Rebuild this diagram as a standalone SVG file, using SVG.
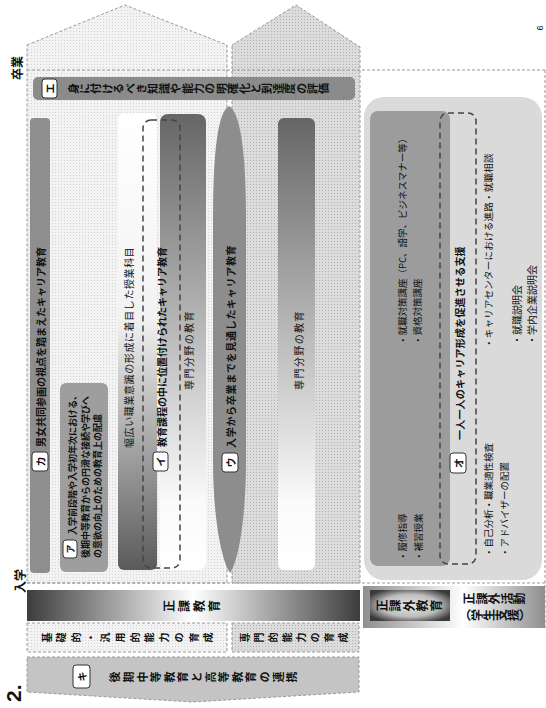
<svg xmlns="http://www.w3.org/2000/svg" width="546" height="708" viewBox="0 0 546 708">
<style>
text { font-family: "Noto Sans CJK JP", "Noto Sans", sans-serif; fill: #111; }
.b { font-weight: bold; }
.r { dominant-baseline: central; }
.v { writing-mode: vertical-rl; text-anchor: middle; }
.lbl { fill: #fff; stroke: #333; stroke-width: 1; }
.edge { stroke: #999; stroke-width: 1; stroke-dasharray: 3 2; }
.guide { fill: none; stroke: #999; stroke-width: 1; stroke-dasharray: 3 2; }
.bigdash { fill: none; stroke: #444; stroke-width: 1.5; stroke-dasharray: 6 4; }
</style>
<defs>
<pattern id="dotL" width="3" height="3" patternUnits="userSpaceOnUse"><rect width="3" height="3" fill="#f3f3f3"/><rect x="1" y="1" width="1" height="1" fill="#d2d2d2"/></pattern>
<pattern id="dotD" width="3" height="3" patternUnits="userSpaceOnUse"><rect width="3" height="3" fill="#dcdcdc"/><rect x="1" y="1" width="1" height="1" fill="#b2b2b2"/></pattern>
<linearGradient id="gBar" x1="0" y1="0" x2="1" y2="0"><stop offset="0" stop-color="#3c3c3c"/><stop offset="0.5" stop-color="#ffffff"/><stop offset="1" stop-color="#3c3c3c"/></linearGradient>
<linearGradient id="gUp" x1="0" y1="0" x2="0" y2="1"><stop offset="0" stop-color="#ffffff"/><stop offset="0.45" stop-color="#f2f2f2"/><stop offset="1" stop-color="#5a5a5a"/></linearGradient>
<linearGradient id="gDown" x1="0" y1="0" x2="0" y2="1"><stop offset="0" stop-color="#666666"/><stop offset="0.85" stop-color="#fafafa"/><stop offset="1" stop-color="#ffffff"/></linearGradient>
<linearGradient id="gOuter" x1="0" y1="0" x2="1" y2="0"><stop offset="0" stop-color="#8e8e8e"/><stop offset="0.55" stop-color="#ffffff"/><stop offset="1" stop-color="#8e8e8e"/></linearGradient>
<radialGradient id="gRad" cx="0.5" cy="0.5" r="0.6"><stop offset="0" stop-color="#e8e8e8"/><stop offset="0.6" stop-color="#bdbdbd"/><stop offset="1" stop-color="#3a3a3a"/></radialGradient>
</defs>

<g id="houses">
<polygon points="27,45 125,5 227,45 227,583 27,583" fill="url(#dotL)" class="edge"/>
<polygon points="232,45 296,5 360,47 360,583 232,583" fill="url(#dotD)" class="edge"/>
</g>

<g id="connectors">
<line x1="27" y1="70" x2="546" y2="70" class="guide"/>
<line x1="27" y1="583" x2="546" y2="583" class="guide"/>
<line x1="545" y1="70" x2="545" y2="628" class="guide"/>
</g>

<g id="labels-time">
<text class="b r" font-size="12" text-anchor="middle" transform="translate(16,68) rotate(-90)">卒業</text>
<text class="b r" font-size="12" text-anchor="middle" transform="translate(19,581) rotate(-90)">入学</text>
</g>

<g id="node-e">
<rect x="33" y="77" width="322" height="23" rx="5" fill="#8b8b8b"/>
<rect x="42" y="79" width="15" height="19" rx="3" class="lbl"/>
<text class="b r" font-size="10" text-anchor="middle" transform="translate(49.5,88.5) rotate(-90)">エ</text>
<text class="b v" font-size="11" letter-spacing="0.4" transform="translate(199,88.5) rotate(-90)">身に付けるべき知識や能力の明確化と到達度の評価</text>
</g>

<g id="node-ka">
<rect x="30" y="118" width="20" height="455" rx="4" fill="#8e8e8e"/>
<rect x="32" y="452" width="16" height="19" rx="3" class="lbl"/>
<text class="b r" font-size="10" text-anchor="middle" transform="translate(40,461.5) rotate(-90)">カ</text>
<text class="b r" font-size="10" transform="translate(40,447) rotate(-90)">男女共同参画の視点を踏まえたキャリア教育</text>
</g>

<g id="node-a">
<rect x="60" y="383" width="48" height="189" rx="6" fill="#9e9e9e"/>
<rect x="63" y="540" width="14" height="18" rx="3" class="lbl"/>
<text class="b r" font-size="9" text-anchor="middle" transform="translate(70,549) rotate(-90)">ア</text>
<text class="b r" font-size="9" transform="translate(72,535) rotate(-90)">入学前段階や入学初年次における、</text>
<text class="b r" font-size="9" transform="translate(85,558) rotate(-90)">後期中等教育からの円滑な接続や学びへ</text>
<text class="b r" font-size="9" transform="translate(97,558) rotate(-90)">の意欲の向上のための教育上の配慮</text>
</g>

<g id="node-habahiroi">
<rect x="118" y="113" width="39" height="457" rx="6" fill="url(#gUp)"/>
<text class="r" font-size="10" letter-spacing="0.6" transform="translate(128,448) rotate(-90)">幅広い職業意識の形成に着目した授業科目</text>
</g>

<g id="node-i">
<rect x="160" y="114" width="46" height="456" rx="8" fill="url(#gDown)"/>
<rect x="143" y="120" width="37" height="448" rx="8" class="bigdash"/>
<rect x="153" y="452" width="15" height="19" rx="3" class="lbl"/>
<text class="b r" font-size="10" text-anchor="middle" transform="translate(160.5,461.5) rotate(-90)">イ</text>
<text class="b r" font-size="10" transform="translate(161,447) rotate(-90)">教育課程の中に位置付けられたキャリア教育</text>
<text class="r" font-size="10" letter-spacing="1.4" text-anchor="middle" transform="translate(188,350) rotate(-90)">専門分野の教育</text>
</g>

<g id="node-u">
<path d="M229,106 C240,112 246,150 246,220 L246,460 C246,520 238,562 230,573 C222,562 213,520 213,460 L213,220 C213,150 218,112 229,106 Z" fill="#8d8d8d"/>
<rect x="222" y="453" width="16" height="19" rx="3" class="lbl"/>
<text class="b r" font-size="10" text-anchor="middle" transform="translate(230,462.5) rotate(-90)">ウ</text>
<text class="b r" font-size="10" letter-spacing="0.7" transform="translate(230,448) rotate(-90)">入学から卒業までを見通したキャリア教育</text>
</g>

<g id="node-senmon2">
<rect x="278" y="118" width="37" height="452" rx="6" fill="url(#gDown)"/>
<text class="r" font-size="10" letter-spacing="1.4" text-anchor="middle" transform="translate(298,350) rotate(-90)">専門分野の教育</text>
</g>

<g id="node-o">
<rect x="364" y="97" width="178" height="483" rx="20" fill="#dadada"/>
<rect x="370" y="111" width="80" height="455" rx="8" fill="#9c9c9c"/>
<rect x="440" y="113" width="36" height="451" rx="8" class="bigdash"/>
<text class="r" font-size="9.5" transform="translate(402,345) rotate(-90)">・就職対策講座（PC、語学、ビジネスマナー等）</text>
<text class="r" font-size="9.5" transform="translate(417,345) rotate(-90)">・資格対策講座</text>
<text class="r" font-size="9.5" transform="translate(402,561) rotate(-90)">・履修指導</text>
<text class="r" font-size="9.5" transform="translate(418,561) rotate(-90)">・補習授業</text>
<rect x="450" y="453" width="16" height="20" rx="3" class="lbl"/>
<text class="b r" font-size="10" text-anchor="middle" transform="translate(458,463) rotate(-90)">オ</text>
<text class="b r" font-size="10" letter-spacing="0.2" transform="translate(459,440) rotate(-90)">一人一人のキャリア形成を促進させる支援</text>
<text class="r" font-size="9.5" letter-spacing="0.25" transform="translate(488,348) rotate(-90)">・キャリアセンターにおける進路・就職相談</text>
<text class="r" font-size="9.5" transform="translate(488,557) rotate(-90)">・自己分析・職業適性検査</text>
<text class="r" font-size="9.5" transform="translate(504,557) rotate(-90)">・アドバイザーの配置</text>
<text class="r" font-size="10" transform="translate(516,345) rotate(-90)">・就職説明会</text>
<text class="r" font-size="10" transform="translate(531,345) rotate(-90)">・学内企業説明会</text>
</g>

<g id="node-seika">
<rect x="27" y="590" width="333" height="31" fill="url(#gBar)"/>
<text class="b v" font-size="12" letter-spacing="3" transform="translate(193,606) rotate(-90)">正課教育</text>
</g>

<g id="node-kiso">
<rect x="27" y="623" width="200" height="29" fill="url(#dotL)" class="edge"/>
<text class="b v" font-size="10" letter-spacing="4.7" transform="translate(130,637.5) rotate(-90)">基礎的・汎用的能力の育成</text>
</g>

<g id="node-senmonteki">
<rect x="232" y="623" width="127" height="29" fill="url(#dotD)" class="edge"/>
<text class="b v" font-size="10" letter-spacing="3.9" transform="translate(296,637.5) rotate(-90)">専門的能力の育成</text>
</g>

<g id="node-ki">
<polygon points="27,657 359,657 359,692 193,702 27,692" fill="#c4c4c4" class="edge"/>
<rect x="73" y="665" width="17" height="23" rx="3" class="lbl"/>
<text class="b r" font-size="10" text-anchor="middle" transform="translate(81.5,676.5) rotate(-90)">キ</text>
<text class="b v" font-size="11" letter-spacing="2.6" transform="translate(205,677) rotate(-90)">後期中等教育と高等教育の連携</text>
</g>

<g id="node-seikagai">
<rect x="363" y="586" width="182" height="42" fill="url(#gOuter)"/>
<rect x="370" y="590" width="80" height="31" fill="url(#gRad)"/>
<text class="b v" font-size="12" letter-spacing="1.5" transform="translate(410,605.5) rotate(-90)">正課外教育</text>
<text class="b v" font-size="12" letter-spacing="0.6" transform="translate(495,598.5) rotate(-90)">正課外活動</text>
<text class="b v" font-size="12" transform="translate(495,615) rotate(-90)">（学生支援）</text>
</g>

<g id="page-marks">
<text class="b" font-size="21" style="font-family:'Liberation Sans', sans-serif" transform="translate(21,702) rotate(-90)">2.</text>
<text font-size="9" text-anchor="middle" style="font-family:'Liberation Sans', sans-serif" transform="translate(543,28) rotate(-90)">6</text>
</g>
</svg>
